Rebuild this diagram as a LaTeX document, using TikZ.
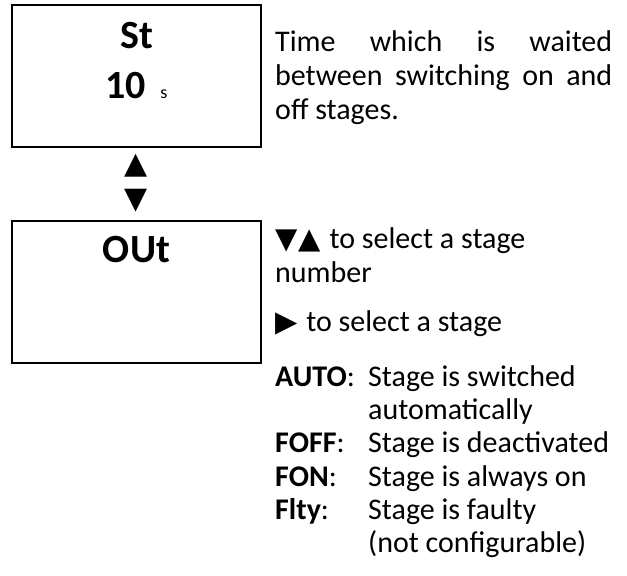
\documentclass[tikz,border=0pt]{standalone}
\usepackage{fontspec}
\setmainfont{Carlito}
\newfontfamily\symfont{DejaVu Sans}
\begin{document}
\begin{tikzpicture}[x=1pt,y=-1pt,
  panel/.style={draw=black, line width=2pt, minimum width=249pt, minimum height=142pt, inner sep=0pt},
  big/.style={font=\bfseries\fontsize{40}{40}\selectfont, inner sep=0pt, anchor=base},
  keysym/.style={font=\symfont\fontsize{30}{30}\selectfont, inner sep=0pt, anchor=center},
  txt/.style={font=\fontsize{30}{30}\selectfont, inner sep=0pt, anchor=base west},
]
\useasboundingbox (0,0) rectangle (627,576);
% boxes
\node[panel] (stbox) at (136.5,76) {};
\node[panel] (outbox) at (136.5,291.5) {};
\node[big] (st) at (136.5,48) {St};
\node[big] (ten) at (136.5,98) {10\hspace{14pt}{\mdseries\fontsize{18}{18}\selectfont s}};
\node[big] (out) at (136.5,262) {OUt};
% up / down keys
\node[keysym] (up) at (136.5,166) {▲};
\node[keysym] (down) at (136.5,201) {▼};
% description St
\node[txt] (d1) at (275,51) {\makebox[337pt][s]{Time which is waited}};
\node[txt] (d2) at (275,85) {\makebox[337pt][s]{between switching on and}};
\node[txt] (d3) at (275,119) {off stages.};
% description OUt
\node[txt] (o1) at (275,248) {{\symfont\fontsize{29}{29}\selectfont ▼\kern1pt▲}\hspace{2pt} to select a stage};
\node[txt] (o2) at (275,282) {number};
\node[txt] (o3) at (275,331) {{\symfont\fontsize{29}{29}\selectfont ▶}\hspace{2pt} to select a stage};
% legend
\node[txt] (k1) at (275,386) {\textbf{AUTO}:};
\node[txt] (v1) at (368,386) {Stage is switched};
\node[txt] (v1b) at (368,419) {automatically};
\node[txt] (k2) at (275,452) {\textbf{FOFF}:};
\node[txt] (v2) at (368,452) {Stage is deactivated};
\node[txt] (k3) at (275,486) {\textbf{FON}:};
\node[txt] (v3) at (368,486) {Stage is always on};
\node[txt] (k4) at (275,519) {\textbf{Flty}:};
\node[txt] (v4) at (368,519) {Stage is faulty};
\node[txt] (v4b) at (368,552) {(not configurable)};
\end{tikzpicture}
\end{document}
